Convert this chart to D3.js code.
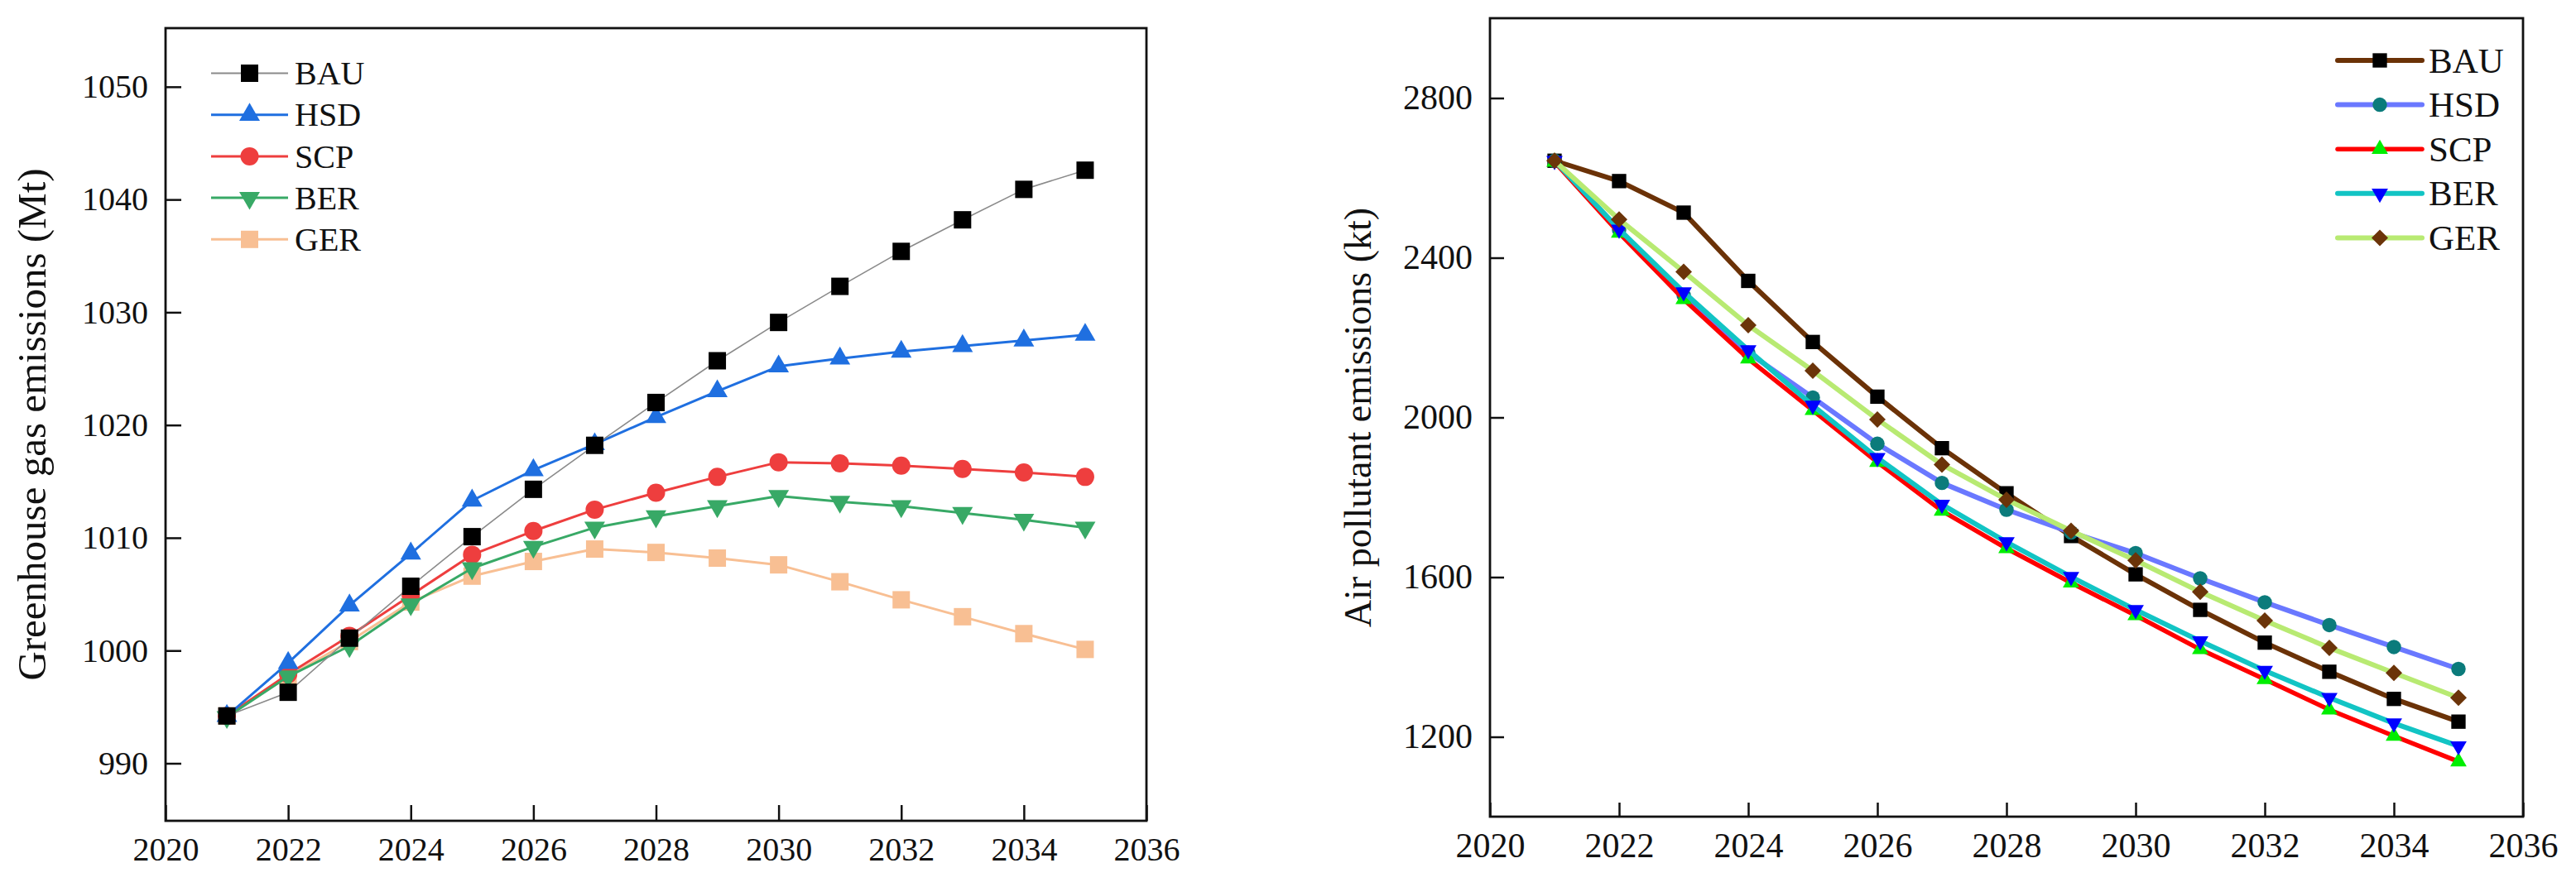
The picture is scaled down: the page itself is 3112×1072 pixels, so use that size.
<!DOCTYPE html>
<html>
<head>
<meta charset="utf-8">
<script src="https://cdn.jsdelivr.net/npm/d3@7"></script>
<style>
  html, body { margin: 0; padding: 0; background: #fff; }
  svg { display: block; }
  text { font-family: "Liberation Serif", "Times New Roman", serif; fill: #111; }
</style>
</head>
<body>
<svg id="chart" width="3112" height="1072"></svg>
<script>
// ---------- data ----------
const years = [2021, 2022, 2023, 2024, 2025, 2026, 2027, 2028, 2029, 2030, 2031, 2032, 2033, 2034, 2035];
const scenarios = ["BAU", "HSD", "SCP", "BER", "GER"];
const xTickLabels = [2020, 2022, 2024, 2026, 2028, 2030, 2032, 2034, 2036];

// Greenhouse gas emissions (Mt)
const ghgBAU = [994.2, 996.3, 1001.1, 1005.7, 1010.1, 1014.3, 1018.2, 1022.0, 1025.7, 1029.1, 1032.3, 1035.4, 1038.2, 1040.9, 1042.6];
const ghgHSD = [994.2, 998.9, 1004.0, 1008.6, 1013.3, 1016.0, 1018.3, 1020.7, 1023.0, 1025.2, 1025.9, 1026.5, 1027.0, 1027.5, 1028.0];
const ghgSCP = [994.2, 997.9, 1001.3, 1004.9, 1008.5, 1010.6, 1012.5, 1014.0, 1015.4, 1016.7, 1016.6, 1016.4, 1016.1, 1015.8, 1015.4];
const ghgBER = [994.1, 997.7, 1000.4, 1004.1, 1007.3, 1009.2, 1010.9, 1011.9, 1012.8, 1013.7, 1013.2, 1012.8, 1012.2, 1011.6, 1010.9];
const ghgGER = [994.2, 997.7, 1000.8, 1004.3, 1006.6, 1007.9, 1009.0, 1008.7, 1008.2, 1007.6, 1006.1, 1004.5, 1003.0, 1001.5, 1000.1];
const ghgTicks = [990, 1000, 1010, 1020, 1030, 1040, 1050];

// Air pollutant emissions (kt)
const apBAU = [2643, 2592, 2513, 2342, 2189, 2052, 1923, 1810, 1703, 1607, 1518, 1436, 1363, 1295, 1238];
const apHSD = [2643, 2470, 2306, 2162, 2050, 1934, 1836, 1769, 1712, 1660, 1597, 1537, 1480, 1425, 1370];
const apSCP = [2640, 2462, 2296, 2147, 2018, 1888, 1766, 1672, 1586, 1504, 1419, 1344, 1268, 1202, 1138];
const apBER = [2643, 2471, 2314, 2169, 2030, 1899, 1782, 1688, 1601, 1518, 1440, 1366, 1298, 1234, 1177];
const apGER = [2643, 2496, 2365, 2231, 2117, 1995, 1882, 1794, 1716, 1642, 1563, 1491, 1423, 1360, 1298];
const apTicks = [1200, 1600, 2000, 2400, 2800];

const svg = d3.select("#chart");

function symbolPath(kind, size) {
  if (kind === "square") return d3.symbol(d3.symbolSquare, size)();
  if (kind === "circle") return d3.symbol(d3.symbolCircle, size)();
  if (kind === "triangle") return d3.symbol(d3.symbolTriangle, size)();
  if (kind === "down") return d3.symbol(d3.symbolTriangle, size)();
  if (kind === "diamond") return d3.symbol(d3.symbolSquare, size)();
}
function symbolRot(kind) {
  if (kind === "down") return " rotate(180)";
  if (kind === "diamond") return " rotate(45)";
  return "";
}

function drawPanel(cfg) {
  const g = svg.append("g");
  const x = d3.scaleLinear().domain([2020, 2036]).range([cfg.left, cfg.right]);
  const y = d3.scaleLinear().domain(cfg.yDomain).range([cfg.bottom, cfg.top]);

  // x axis
  const xa = g.append("g").attr("transform", `translate(0,${cfg.bottom})`)
    .call(d3.axisBottom(x).tickValues(xTickLabels).tickFormat(d3.format("d"))
      .tickSizeInner(-cfg.tick).tickSizeOuter(0).tickPadding(cfg.xPad));
  xa.select(".domain").remove();
  xa.selectAll(".tick line").attr("stroke", "#111").attr("stroke-width", 2.5);
  xa.selectAll(".tick text").attr("font-size", cfg.tickFont).attr("fill", "#111")
    .style("font-family", '"Liberation Serif", serif');

  // y axis
  const ya = g.append("g").attr("transform", `translate(${cfg.left},0)`)
    .call(d3.axisLeft(y).tickValues(cfg.yTicks).tickFormat(d3.format("d"))
      .tickSizeInner(-cfg.tick).tickSizeOuter(0).tickPadding(cfg.yPad));
  ya.select(".domain").remove();
  ya.selectAll(".tick line").attr("stroke", "#111").attr("stroke-width", 2.5);
  ya.selectAll(".tick text").attr("font-size", cfg.tickFont).attr("fill", "#111")
    .style("font-family", '"Liberation Serif", serif');

  // frame
  g.append("rect").attr("x", cfg.left).attr("y", cfg.top)
    .attr("width", cfg.right - cfg.left).attr("height", cfg.bottom - cfg.top)
    .attr("fill", "none").attr("stroke", "#111").attr("stroke-width", 2.8);

  // y title
  g.append("text")
    .attr("transform", `translate(${cfg.titleX},${(cfg.top + cfg.bottom) / 2}) rotate(-90)`)
    .attr("text-anchor", "middle").attr("font-size", cfg.titleFont)
    .text(cfg.title);

  // series
  const line = d3.line().x((d, i) => x(years[i])).y(d => y(d));
  cfg.order.forEach(idx => {
    const s = cfg.series[idx];
    const sg = g.append("g");
    sg.append("path").datum(s.values).attr("d", line)
      .attr("fill", "none").attr("stroke", s.line).attr("stroke-width", s.lw)
      .attr("stroke-linejoin", "round").attr("stroke-linecap", "round");
    sg.selectAll("path.m").data(s.values).enter().append("path").attr("class", "m")
      .attr("d", symbolPath(s.sym, s.size))
      .attr("transform", (d, i) => `translate(${x(years[i])},${y(d)})` + symbolRot(s.sym))
      .attr("fill", s.fill);
  });

  // legend
  const lg = g.append("g");
  cfg.series.forEach((s, i) => {
    const ly = cfg.legY + i * cfg.legStep;
    lg.append("line").attr("x1", cfg.legX1).attr("x2", cfg.legX2).attr("y1", ly).attr("y2", ly)
      .attr("stroke", s.line).attr("stroke-width", s.legLw || s.lw).attr("stroke-linecap", cfg.legCap);
    lg.append("path").attr("d", symbolPath(s.sym, s.size))
      .attr("transform", `translate(${(cfg.legX1 + cfg.legX2) / 2},${ly})` + symbolRot(s.sym))
      .attr("fill", s.fill);
    lg.append("text").attr("x", cfg.legTextX).attr("y", ly).attr("dy", "0.34em")
      .attr("font-size", cfg.legFont).text(scenarios[i]);
  });
}

// ---------- left panel ----------
drawPanel({
  left: 200, right: 1385, top: 34, bottom: 992,
  yDomain: [984.9, 1055.2], yTicks: ghgTicks, tick: 19,
  tickFont: 40, xPad: 20, yPad: 21,
  title: "Greenhouse gas emissions (Mt)", titleX: 55, titleFont: 49,
  order: [4, 2, 3, 1, 0],
  series: [
    { values: ghgBAU, line: "#8a8a8a", lw: 1.6, legLw: 2, sym: "square", size: 441, fill: "#000" },
    { values: ghgHSD, line: "#1f6fe0", lw: 3, sym: "triangle", size: 270, fill: "#1f6fe0" },
    { values: ghgSCP, line: "#ee3e3e", lw: 3, sym: "circle", size: 380, fill: "#ee3e3e" },
    { values: ghgBER, line: "#38a966", lw: 3, sym: "down", size: 270, fill: "#38a966" },
    { values: ghgGER, line: "#f8bf93", lw: 3, sym: "square", size: 441, fill: "#f8bf93" }
  ],
  legX1: 255, legX2: 348, legY: 88.5, legStep: 50.2, legTextX: 356, legFont: 40, legCap: "butt"
});

// ---------- right panel ----------
drawPanel({
  left: 1800, right: 3048, top: 22, bottom: 987,
  yDomain: [1000, 3000], yTicks: apTicks, tick: 17,
  tickFont: 42, xPad: 19, yPad: 21,
  title: "Air pollutant emissions (kt)", titleX: 1656, titleFont: 46,
  order: [0, 1, 2, 3, 4],
  series: [
    { values: apBAU, line: "#6b3207", lw: 6, sym: "square", size: 300, fill: "#000" },
    { values: apHSD, line: "#6a78ff", lw: 6, sym: "circle", size: 240, fill: "#0b7b7b" },
    { values: apSCP, line: "#ff0000", lw: 5.5, sym: "triangle", size: 170, fill: "#00ee00" },
    { values: apBER, line: "#12c4c4", lw: 6, sym: "down", size: 170, fill: "#0000ff" },
    { values: apGER, line: "#b8ea72", lw: 6, sym: "diamond", size: 200, fill: "#6b3409" }
  ],
  legX1: 2824, legX2: 2926, legY: 73, legStep: 53.6, legTextX: 2934, legFont: 43, legCap: "round"
});
</script>
</body>
</html>
